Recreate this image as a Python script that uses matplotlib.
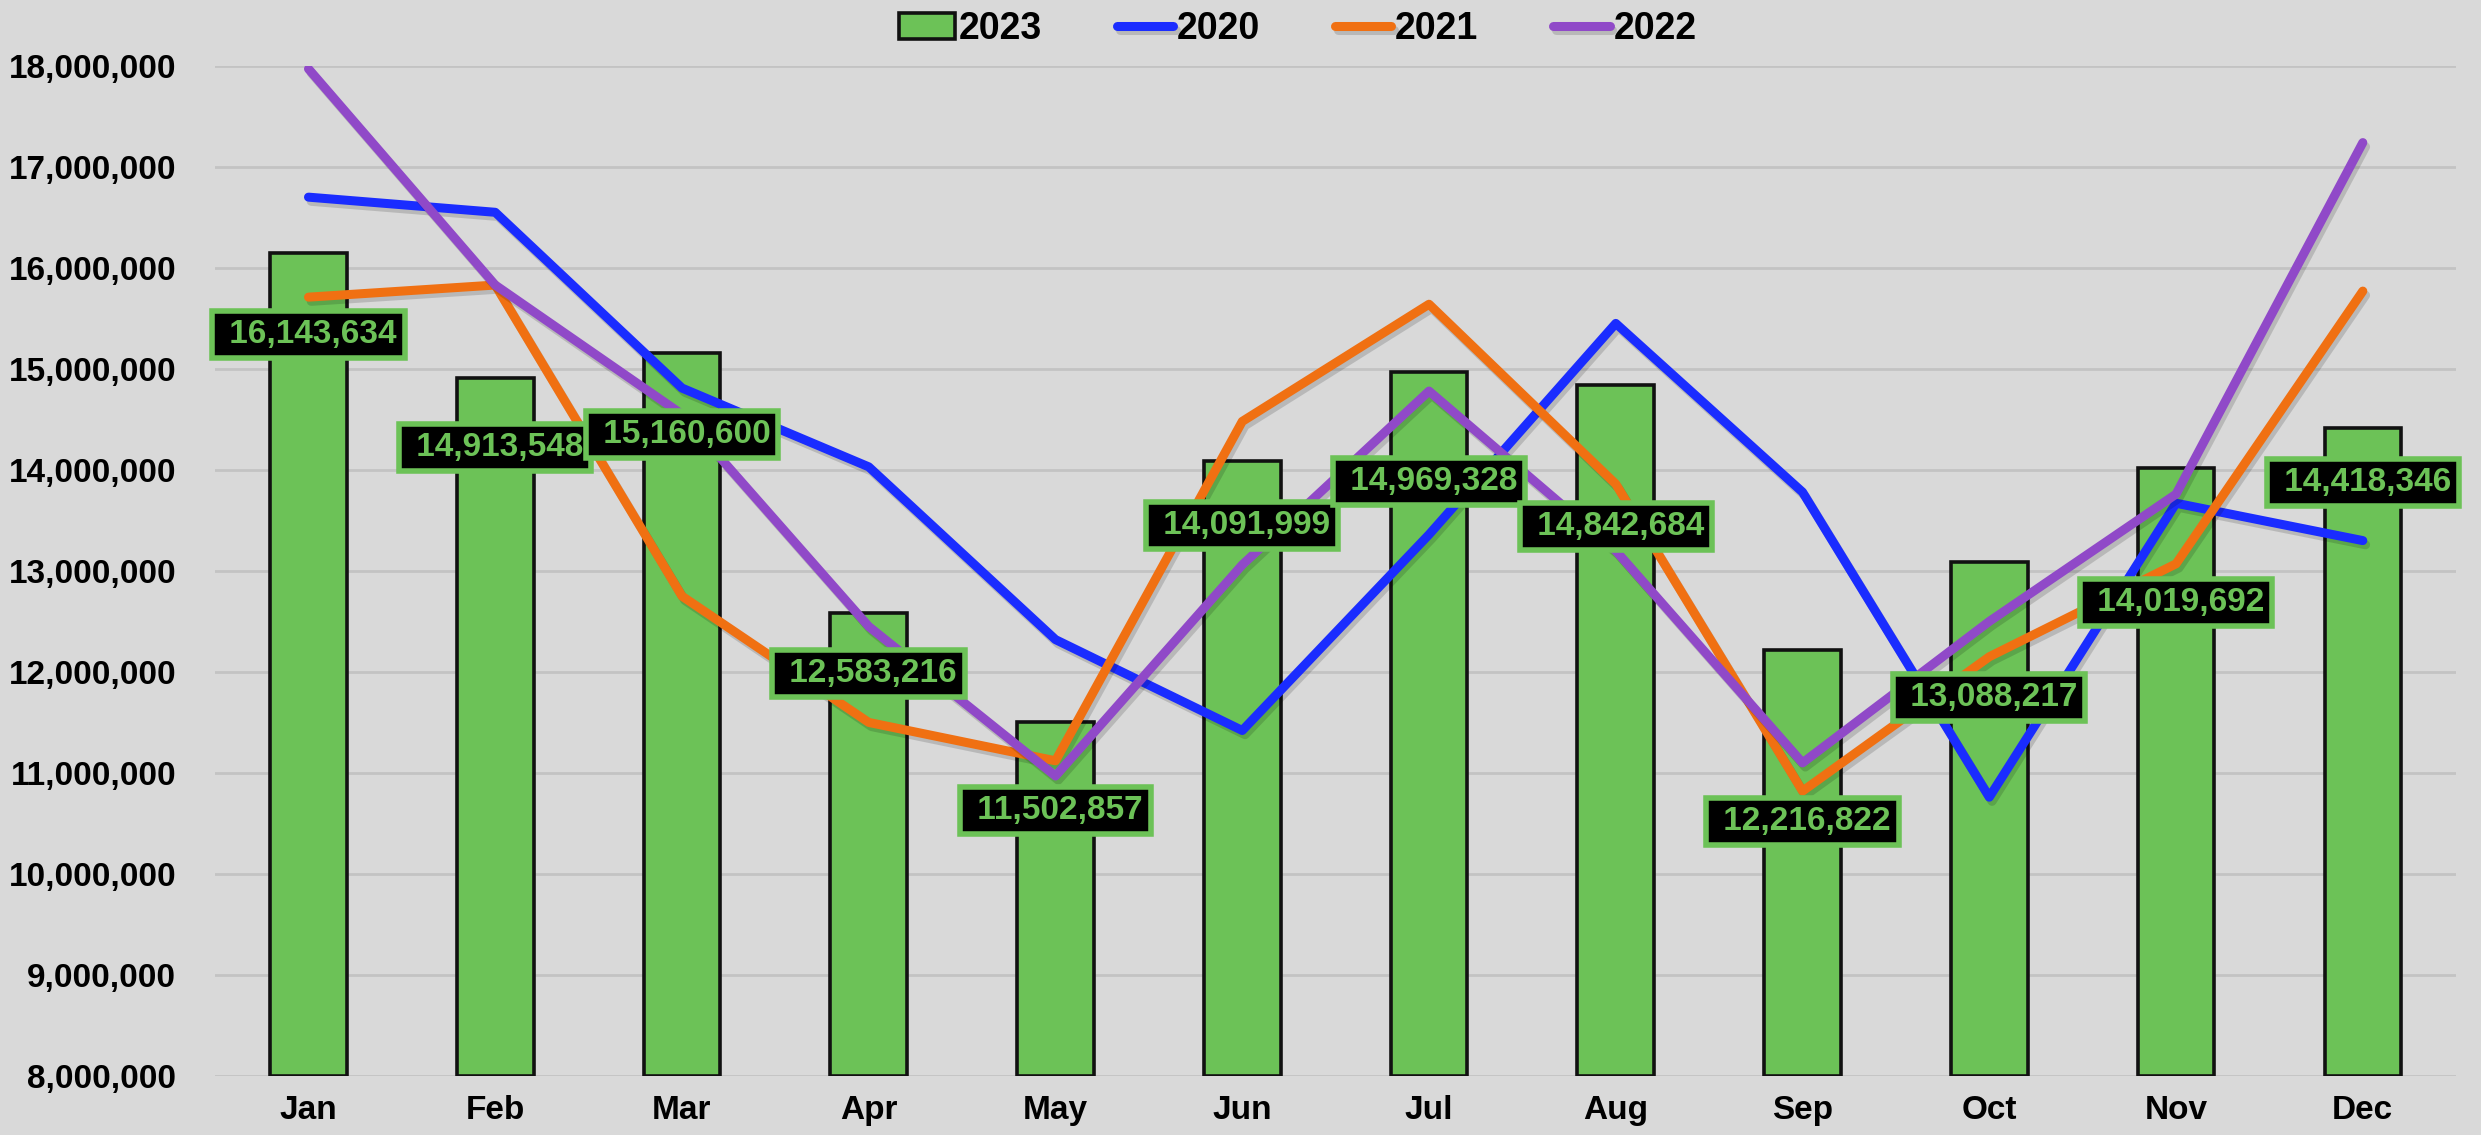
import matplotlib
matplotlib.use("Agg")
import matplotlib.pyplot as plt
import matplotlib.patheffects as pe
from matplotlib.ticker import FuncFormatter

months = ['Jan', 'Feb', 'Mar', 'Apr', 'May', 'Jun', 'Jul', 'Aug', 'Sep', 'Oct', 'Nov', 'Dec']
vals_2023 = [16143634, 14913548, 15160600, 12583216, 11502857, 14091999,
             14969328, 14842684, 12216822, 13088217, 14019692, 14418346]
vals_2020 = [16700000, 16550000, 14810000, 14030000, 12320000, 11420000,
             13360000, 15450000, 13780000, 10760000, 13670000, 13300000]
vals_2021 = [15710000, 15830000, 12750000, 11500000, 11120000, 14480000,
             15640000, 13860000, 10820000, 12150000, 13070000, 15770000]
vals_2022 = [17970000, 15830000, 14550000, 12450000, 10970000, 13060000,
             14780000, 13200000, 11100000, 12500000, 13760000, 17240000]
# where the data labels sit (manually dragged in the original)
label_y = [15340000, 14220000, 14350000, 11980000, 10630000, 13450000,
           13890000, 13440000, 10520000, 11750000, 12690000, 13880000]

plt.rcParams['font.family'] = ['Liberation Sans', 'DejaVu Sans']
bg = '#d9d9d9'
green = '#6cc257'

fig = plt.figure(figsize=(24.81, 11.35), dpi=100, facecolor=bg)
ax = fig.add_axes([0.0867, 0.052, 0.9033, 0.890])
ax.set_facecolor(bg)

x = list(range(len(months)))
shadow = [pe.SimpleLineShadow(offset=(2, -3), shadow_color='k', alpha=0.15), pe.Normal()]

bars = ax.bar(x, [v - 8000000 for v in vals_2023], bottom=8000000, width=0.41,
              color=green, edgecolor='#111111', linewidth=2.6, zorder=2, label='2023')
l20, = ax.plot(x, vals_2020, color='#1a2cff', lw=6.5, solid_capstyle='round', zorder=3,
               label='2020', path_effects=shadow)
l21, = ax.plot(x, vals_2021, color='#f07012', lw=6.5, solid_capstyle='round', zorder=3,
               label='2021', path_effects=shadow)
l22, = ax.plot(x, vals_2022, color='#9049c8', lw=6.5, solid_capstyle='round', zorder=3,
               label='2022', path_effects=shadow)

for xi, v, ly in zip(x, vals_2023, label_y):
    ax.text(xi, ly, f' {v:,}', ha='center', va='center', fontsize=24, color=green,
            fontweight='bold', zorder=5,
            bbox=dict(boxstyle='square,pad=0.24', facecolor='black',
                      edgecolor=green, linewidth=4))

ax.set_xlim(-0.5, 11.5)
ax.set_ylim(8000000, 18000000)
ax.set_yticks(range(8000000, 18000001, 1000000))
ax.yaxis.set_major_formatter(FuncFormatter(lambda v, p: f'{int(v):,}'))
ax.set_xticks(x)
ax.set_xticklabels(months)
ax.tick_params(axis='both', length=0, labelsize=24)
ax.tick_params(axis='y', pad=28)
ax.tick_params(axis='x', pad=14)
for lab in ax.get_xticklabels() + ax.get_yticklabels():
    lab.set_fontweight('bold')
ax.grid(axis='y', color='#c3c3c3', lw=2, zorder=0)
ax.set_axisbelow(True)
for s in ax.spines.values():
    s.set_visible(False)

fig.legend(handles=[bars, l20, l21, l22], loc='upper center', bbox_to_anchor=(0.523, 1.02),
           ncol=4, frameon=False, handlelength=1.5, handletextpad=0.1,
           columnspacing=2.0, prop={'weight': 'bold', 'size': 27})

fig.savefig('out.png', dpi=100, facecolor=bg)
